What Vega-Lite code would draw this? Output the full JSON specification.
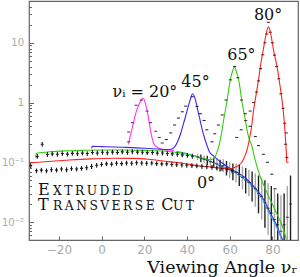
{
  "$schema": "https://vega.github.io/schema/vega-lite/v6.json",
  "width": 269,
  "height": 239,
  "autosize": {"type": "none"},
  "padding": {"left": 29, "top": 1, "right": 2, "bottom": 37},
  "config": {
    "view": {"stroke": "#666666", "strokeWidth": 1.2},
    "axis": {"grid": false, "domain": false, "labelColor": "#aaaaaa", "labelFont": "DejaVu Sans", "tickColor": "#666666"}
  },
  "datasets": {
    "curves": [
      {"s": "20", "x": 12.6, "y": 0.2}, {"s": "20", "x": 13.4, "y": 0.27}, {"s": "20", "x": 14.4, "y": 0.38}, {"s": "20", "x": 15.3, "y": 0.52}, {"s": "20", "x": 16.3, "y": 0.72}, {"s": "20", "x": 17.4, "y": 0.9}, {"s": "20", "x": 18.4, "y": 1.08}, {"s": "20", "x": 19.3, "y": 1.18}, {"s": "20", "x": 20.1, "y": 1.08}, {"s": "20", "x": 20.8, "y": 0.88}, {"s": "20", "x": 21.6, "y": 0.65}, {"s": "20", "x": 22.3, "y": 0.47}, {"s": "20", "x": 23, "y": 0.33}, {"s": "20", "x": 23.7, "y": 0.25}, {"s": "20", "x": 24.6, "y": 0.2}, {"s": "20", "x": 26, "y": 0.178}, {"s": "20", "x": 28.4, "y": 0.165}, {"s": "20", "x": 31, "y": 0.16}, {"s": "20", "x": 34, "y": 0.157},
      {"s": "45", "x": -4.6, "y": 0.17}, {"s": "45", "x": -4.5, "y": 0.185}, {"s": "45", "x": 0, "y": 0.183}, {"s": "45", "x": 10, "y": 0.178}, {"s": "45", "x": 20, "y": 0.172}, {"s": "45", "x": 26, "y": 0.167}, {"s": "45", "x": 30, "y": 0.163}, {"s": "45", "x": 32.4, "y": 0.165}, {"s": "45", "x": 34, "y": 0.178}, {"s": "45", "x": 35, "y": 0.2}, {"s": "45", "x": 36, "y": 0.24}, {"s": "45", "x": 37, "y": 0.3}, {"s": "45", "x": 38, "y": 0.4}, {"s": "45", "x": 39, "y": 0.53}, {"s": "45", "x": 40, "y": 0.72}, {"s": "45", "x": 41, "y": 0.97}, {"s": "45", "x": 41.8, "y": 1.2}, {"s": "45", "x": 42.6, "y": 1.4}, {"s": "45", "x": 43.4, "y": 1.28}, {"s": "45", "x": 44.2, "y": 1.02}, {"s": "45", "x": 45, "y": 0.76}, {"s": "45", "x": 46, "y": 0.53}, {"s": "45", "x": 47, "y": 0.37}, {"s": "45", "x": 48, "y": 0.27}, {"s": "45", "x": 49.4, "y": 0.19}, {"s": "45", "x": 50.5, "y": 0.15}, {"s": "45", "x": 52.5, "y": 0.127}, {"s": "45", "x": 56, "y": 0.1}, {"s": "45", "x": 61, "y": 0.076}, {"s": "45", "x": 64, "y": 0.066}, {"s": "45", "x": 67.3, "y": 0.055}, {"s": "45", "x": 70, "y": 0.044}, {"s": "45", "x": 72, "y": 0.037}, {"s": "45", "x": 74, "y": 0.03}, {"s": "45", "x": 75.8, "y": 0.024}, {"s": "45", "x": 78.9, "y": 0.0145}, {"s": "45", "x": 82, "y": 0.0088}, {"s": "45", "x": 84.3, "y": 0.0055}, {"s": "45", "x": 85, "y": 0.005},
      {"s": "0", "x": 35, "y": 0.152}, {"s": "0", "x": 38, "y": 0.145}, {"s": "0", "x": 41, "y": 0.136}, {"s": "0", "x": 45, "y": 0.124}, {"s": "0", "x": 50, "y": 0.106}, {"s": "0", "x": 53, "y": 0.096}, {"s": "0", "x": 56, "y": 0.087}, {"s": "0", "x": 61, "y": 0.072}, {"s": "0", "x": 64, "y": 0.062}, {"s": "0", "x": 67.3, "y": 0.051}, {"s": "0", "x": 70, "y": 0.042}, {"s": "0", "x": 72, "y": 0.035}, {"s": "0", "x": 74, "y": 0.028}, {"s": "0", "x": 75.8, "y": 0.0225}, {"s": "0", "x": 77.5, "y": 0.017}, {"s": "0", "x": 78.9, "y": 0.0135}, {"s": "0", "x": 80.5, "y": 0.0105}, {"s": "0", "x": 82, "y": 0.0082}, {"s": "0", "x": 83.2, "y": 0.0065}, {"s": "0", "x": 84.3, "y": 0.0052}, {"s": "0", "x": 85, "y": 0.0045},
      {"s": "65", "x": -30.8, "y": 0.118}, {"s": "65", "x": -30.7, "y": 0.14}, {"s": "65", "x": -28, "y": 0.145}, {"s": "65", "x": -24, "y": 0.15}, {"s": "65", "x": -18, "y": 0.155}, {"s": "65", "x": -10, "y": 0.158}, {"s": "65", "x": 0, "y": 0.16}, {"s": "65", "x": 10, "y": 0.16}, {"s": "65", "x": 20, "y": 0.158}, {"s": "65", "x": 30, "y": 0.153}, {"s": "65", "x": 36, "y": 0.145}, {"s": "65", "x": 41, "y": 0.134}, {"s": "65", "x": 45, "y": 0.124}, {"s": "65", "x": 48, "y": 0.116}, {"s": "65", "x": 50.5, "y": 0.11}, {"s": "65", "x": 52.5, "y": 0.115}, {"s": "65", "x": 54, "y": 0.145}, {"s": "65", "x": 55, "y": 0.19}, {"s": "65", "x": 55.6, "y": 0.24}, {"s": "65", "x": 56.4, "y": 0.34}, {"s": "65", "x": 57.2, "y": 0.52}, {"s": "65", "x": 58, "y": 0.75}, {"s": "65", "x": 58.7, "y": 1.05}, {"s": "65", "x": 59.5, "y": 1.6}, {"s": "65", "x": 60.3, "y": 2.4}, {"s": "65", "x": 61.3, "y": 3.3}, {"s": "65", "x": 62.3, "y": 3.95}, {"s": "65", "x": 63.2, "y": 3.2}, {"s": "65", "x": 64.2, "y": 2.4}, {"s": "65", "x": 65, "y": 1.6}, {"s": "65", "x": 65.7, "y": 1.05}, {"s": "65", "x": 66.5, "y": 0.73}, {"s": "65", "x": 67.3, "y": 0.52}, {"s": "65", "x": 68, "y": 0.37}, {"s": "65", "x": 68.8, "y": 0.27}, {"s": "65", "x": 69.6, "y": 0.22}, {"s": "65", "x": 70.4, "y": 0.187}, {"s": "65", "x": 71.5, "y": 0.125}, {"s": "65", "x": 72.7, "y": 0.087}, {"s": "65", "x": 74.2, "y": 0.059}, {"s": "65", "x": 75.8, "y": 0.043}, {"s": "65", "x": 78.1, "y": 0.0275}, {"s": "65", "x": 80.4, "y": 0.0187}, {"s": "65", "x": 82.8, "y": 0.012}, {"s": "65", "x": 85.1, "y": 0.0077}, {"s": "65", "x": 86.6, "y": 0.005},
      {"s": "80", "x": -34, "y": 0.097}, {"s": "80", "x": -25, "y": 0.103}, {"s": "80", "x": -15, "y": 0.109}, {"s": "80", "x": -5, "y": 0.114}, {"s": "80", "x": 5, "y": 0.117}, {"s": "80", "x": 15, "y": 0.116}, {"s": "80", "x": 22, "y": 0.112}, {"s": "80", "x": 30, "y": 0.104}, {"s": "80", "x": 38, "y": 0.096}, {"s": "80", "x": 45, "y": 0.088}, {"s": "80", "x": 52, "y": 0.083}, {"s": "80", "x": 57, "y": 0.079}, {"s": "80", "x": 60, "y": 0.078}, {"s": "80", "x": 62, "y": 0.081}, {"s": "80", "x": 64, "y": 0.088}, {"s": "80", "x": 65.7, "y": 0.1}, {"s": "80", "x": 67, "y": 0.125}, {"s": "80", "x": 68.2, "y": 0.165}, {"s": "80", "x": 69.3, "y": 0.25}, {"s": "80", "x": 70.2, "y": 0.38}, {"s": "80", "x": 71.1, "y": 0.7}, {"s": "80", "x": 72.3, "y": 1.3}, {"s": "80", "x": 73.5, "y": 2.4}, {"s": "80", "x": 74.3, "y": 3.8}, {"s": "80", "x": 75, "y": 5.5}, {"s": "80", "x": 75.7, "y": 7.5}, {"s": "80", "x": 76.4, "y": 10.5}, {"s": "80", "x": 77.2, "y": 14.5}, {"s": "80", "x": 78.1, "y": 18.5}, {"s": "80", "x": 78.9, "y": 16}, {"s": "80", "x": 79.6, "y": 12}, {"s": "80", "x": 80.4, "y": 8}, {"s": "80", "x": 81.2, "y": 5.8}, {"s": "80", "x": 82, "y": 4.3}, {"s": "80", "x": 83, "y": 2.6}, {"s": "80", "x": 84, "y": 1.5}, {"s": "80", "x": 84.8, "y": 0.9}, {"s": "80", "x": 85.4, "y": 0.55}, {"s": "80", "x": 85.9, "y": 0.33}, {"s": "80", "x": 86.3, "y": 0.2}, {"s": "80", "x": 86.6, "y": 0.13}, {"s": "80", "x": 86.7, "y": 0.1}, {"s": "80", "x": 87.6, "y": 0.1}
    ],
    "pts": [
      {"g": "b", "x": -30.1, "y": 0.125}, {"g": "b", "x": -27.8, "y": 0.2}, {"g": "b", "x": -25.4, "y": 0.135}, {"g": "b", "x": -23.1, "y": 0.138}, {"g": "b", "x": -20.7, "y": 0.136}, {"g": "b", "x": -18.4, "y": 0.14}, {"g": "b", "x": -16, "y": 0.137}, {"g": "b", "x": -13.7, "y": 0.141}, {"g": "b", "x": -11.3, "y": 0.139}, {"g": "b", "x": -9, "y": 0.142}, {"g": "b", "x": -6.7, "y": 0.14}, {"g": "b", "x": -4.3, "y": 0.146}, {"g": "b", "x": -2, "y": 0.143}, {"g": "b", "x": 0.4, "y": 0.147}, {"g": "b", "x": 2.7, "y": 0.144}, {"g": "b", "x": 5.1, "y": 0.148}, {"g": "b", "x": 7.4, "y": 0.146}, {"g": "b", "x": 9.7, "y": 0.149}, {"g": "b", "x": 12.1, "y": 0.147}, {"g": "b", "x": 14.4, "y": 0.15}, {"g": "b", "x": 16.8, "y": 0.148}, {"g": "b", "x": 19.1, "y": 0.147}, {"g": "b", "x": 21.4, "y": 0.145}, {"g": "b", "x": 23.8, "y": 0.146}, {"g": "b", "x": 26.1, "y": 0.142}, {"g": "b", "x": 28.5, "y": 0.143}, {"g": "b", "x": 30.8, "y": 0.14}, {"g": "b", "x": 33.1, "y": 0.138}, {"g": "b", "x": 35.5, "y": 0.136}, {"g": "b", "x": 37.8, "y": 0.133}, {"g": "b", "x": 40.2, "y": 0.13}, {"g": "b", "x": 42.5, "y": 0.126},
      {"g": "b", "x": -33.2, "y": 0.088}, {"g": "b", "x": -30.5, "y": 0.072}, {"g": "b", "x": -28.2, "y": 0.074}, {"g": "b", "x": -25.8, "y": 0.072}, {"g": "b", "x": -23.5, "y": 0.075}, {"g": "b", "x": -21.1, "y": 0.074}, {"g": "b", "x": -18.8, "y": 0.077}, {"g": "b", "x": -16.4, "y": 0.075}, {"g": "b", "x": -14.1, "y": 0.078}, {"g": "b", "x": -11.7, "y": 0.077}, {"g": "b", "x": -9.4, "y": 0.079}, {"g": "b", "x": -7, "y": 0.081}, {"g": "b", "x": -4.7, "y": 0.085}, {"g": "b", "x": -2.3, "y": 0.089}, {"g": "b", "x": 0, "y": 0.092}, {"g": "b", "x": 2.3, "y": 0.094}, {"g": "b", "x": 4.7, "y": 0.093}, {"g": "b", "x": 7, "y": 0.096}, {"g": "b", "x": 9.4, "y": 0.095}, {"g": "b", "x": 11.7, "y": 0.097}, {"g": "b", "x": 14.1, "y": 0.096}, {"g": "b", "x": 16.4, "y": 0.098}, {"g": "b", "x": 18.8, "y": 0.097}, {"g": "b", "x": 21.1, "y": 0.096}, {"g": "b", "x": 23.5, "y": 0.097}, {"g": "b", "x": 25.8, "y": 0.095}, {"g": "b", "x": 28.2, "y": 0.094}, {"g": "b", "x": 30.5, "y": 0.094}, {"g": "b", "x": 32.9, "y": 0.092}, {"g": "b", "x": 35.2, "y": 0.091}, {"g": "b", "x": 37.6, "y": 0.09}, {"g": "b", "x": 39.9, "y": 0.089}, {"g": "b", "x": 42.3, "y": 0.088}, {"g": "b", "x": 44.6, "y": 0.087}, {"g": "b", "x": 47, "y": 0.085}, {"g": "b", "x": 49.3, "y": 0.084}, {"g": "b", "x": 51.7, "y": 0.082}, {"g": "b", "x": 54, "y": 0.08}, {"g": "b", "x": 56.4, "y": 0.078}, {"g": "b", "x": 58.7, "y": 0.075}, {"g": "b", "x": 61.1, "y": 0.072},
      {"g": "d20", "x": 12.7, "y": 0.32}, {"g": "d20", "x": 12.7, "y": 0.22}, {"g": "d20", "x": 14.5, "y": 0.46}, {"g": "d20", "x": 16.2, "y": 0.9}, {"g": "d20", "x": 18.6, "y": 1.1}, {"g": "d20", "x": 21.3, "y": 0.72}, {"g": "d20", "x": 23, "y": 0.46}, {"g": "d20", "x": 25.4, "y": 0.33}, {"g": "d20", "x": 27, "y": 0.26}, {"g": "d20", "x": 28.4, "y": 0.21},
      {"g": "d45", "x": 30.3, "y": 0.24}, {"g": "d45", "x": 32.4, "y": 0.31}, {"g": "d45", "x": 34.2, "y": 0.42}, {"g": "d45", "x": 36, "y": 0.55}, {"g": "d45", "x": 37.8, "y": 0.7}, {"g": "d45", "x": 39.4, "y": 0.87}, {"g": "d45", "x": 42.5, "y": 1.25}, {"g": "d45", "x": 44.7, "y": 0.86}, {"g": "d45", "x": 46.3, "y": 0.65}, {"g": "d45", "x": 48, "y": 0.5}, {"g": "d45", "x": 49.3, "y": 0.35}, {"g": "d45", "x": 51.7, "y": 0.22}, {"g": "d45", "x": 53, "y": 0.3},
      {"g": "d65", "x": 54.7, "y": 0.42}, {"g": "d65", "x": 56.5, "y": 0.62}, {"g": "d65", "x": 58.3, "y": 1.1}, {"g": "d65", "x": 60.3, "y": 2.4}, {"g": "d65", "x": 62.3, "y": 4.0}, {"g": "d65", "x": 63.8, "y": 2.6}, {"g": "d65", "x": 65.6, "y": 1.1}, {"g": "d65", "x": 67.3, "y": 0.65}, {"g": "d65", "x": 69.5, "y": 0.4}, {"g": "d65", "x": 72, "y": 0.27}, {"g": "d65", "x": 73.5, "y": 0.19}, {"g": "d65", "x": 75.8, "y": 0.136}, {"g": "d65", "x": 77.7, "y": 0.1}, {"g": "d65", "x": 79.7, "y": 0.063}, {"g": "d65", "x": 81.2, "y": 0.036},
      {"g": "d80", "x": 63.3, "y": 0.26}, {"g": "d80", "x": 65.4, "y": 0.35}, {"g": "d80", "x": 67.5, "y": 0.5}, {"g": "d80", "x": 69.6, "y": 0.72}, {"g": "d80", "x": 71.2, "y": 1.0}, {"g": "d80", "x": 72.6, "y": 1.5}, {"g": "d80", "x": 73.5, "y": 2.3}, {"g": "d80", "x": 74.5, "y": 3.7}, {"g": "d80", "x": 75.5, "y": 6.3}, {"g": "d80", "x": 76.5, "y": 10}, {"g": "d80", "x": 77.4, "y": 14}, {"g": "d80", "x": 78.1, "y": 22}, {"g": "d80", "x": 79, "y": 15}, {"g": "d80", "x": 80, "y": 10}, {"g": "d80", "x": 81, "y": 6.2}, {"g": "d80", "x": 82, "y": 4}, {"g": "d80", "x": 83, "y": 2.5}, {"g": "d80", "x": 84, "y": 1.4}, {"g": "d80", "x": 85, "y": 0.8}, {"g": "d80", "x": 85.8, "y": 0.45}, {"g": "d80", "x": 86.5, "y": 0.31}, {"g": "d80", "x": 86.2, "y": 0.2}, {"g": "d80", "x": 86.8, "y": 0.12}
    ],
    "tail": [
      {"c": "g", "x": 45, "y": 0.122, "lo": 0.108, "hi": 0.138}, {"c": "k", "x": 46.5, "y": 0.117, "lo": 0.1, "hi": 0.135}, {"c": "g", "x": 48, "y": 0.112, "lo": 0.095, "hi": 0.13}, {"c": "k", "x": 49.5, "y": 0.108, "lo": 0.09, "hi": 0.128}, {"c": "g", "x": 51, "y": 0.102, "lo": 0.085, "hi": 0.122}, {"c": "k", "x": 52.5, "y": 0.1, "lo": 0.082, "hi": 0.12}, {"c": "g", "x": 54, "y": 0.094, "lo": 0.075, "hi": 0.115}, {"c": "k", "x": 55.5, "y": 0.088, "lo": 0.07, "hi": 0.11}, {"c": "g", "x": 57, "y": 0.088, "lo": 0.068, "hi": 0.112}, {"c": "k", "x": 58.5, "y": 0.08, "lo": 0.06, "hi": 0.105}, {"c": "g", "x": 60, "y": 0.076, "lo": 0.055, "hi": 0.1}, {"c": "k", "x": 61.5, "y": 0.07, "lo": 0.05, "hi": 0.095}, {"c": "g", "x": 63, "y": 0.068, "lo": 0.046, "hi": 0.095}, {"c": "k", "x": 64.5, "y": 0.062, "lo": 0.04, "hi": 0.09}, {"c": "g", "x": 66, "y": 0.056, "lo": 0.035, "hi": 0.085}, {"c": "k", "x": 67.5, "y": 0.05, "lo": 0.03, "hi": 0.08}, {"c": "g", "x": 69, "y": 0.046, "lo": 0.027, "hi": 0.075}, {"c": "k", "x": 70.5, "y": 0.04, "lo": 0.022, "hi": 0.07}, {"c": "g", "x": 72, "y": 0.036, "lo": 0.018, "hi": 0.065}, {"c": "k", "x": 73.5, "y": 0.03, "lo": 0.014, "hi": 0.06}, {"c": "g", "x": 75, "y": 0.027, "lo": 0.011, "hi": 0.055}, {"c": "k", "x": 76.5, "y": 0.021, "lo": 0.008, "hi": 0.05}, {"c": "g", "x": 78, "y": 0.017, "lo": 0.006, "hi": 0.045}, {"c": "k", "x": 79.5, "y": 0.014, "lo": 0.005, "hi": 0.04}, {"c": "g", "x": 81, "y": 0.011, "lo": 0.004, "hi": 0.035}, {"c": "k", "x": 82.5, "y": 0.009, "lo": 0.003, "hi": 0.03}, {"c": "g", "x": 84, "y": 0.007, "lo": 0.003, "hi": 0.028}, {"c": "k", "x": 85.5, "y": 0.009, "lo": 0.003, "hi": 0.03}, {"c": "g", "x": 87, "y": 0.012, "lo": 0.004, "hi": 0.04}, {"c": "k", "x": 88.5, "y": 0.02, "lo": 0.005, "hi": 0.06}
    ],
    "lab": [
      {"x": 20.3, "y": 1.24, "t": "νᵢ = 20°"},
      {"x": 44.0, "y": 1.82, "t": "45°"},
      {"x": 65.5, "y": 5.15, "t": "65°"},
      {"x": 78.0, "y": 24.1, "t": "80°"},
      {"x": 48.9, "y": 0.037, "t": "0°"}
    ],
    "scb": [
      {"x": -29.8, "y": 0.0283, "t": "E"},
      {"x": -29.8, "y": 0.0159, "t": "T"},
      {"x": 28.0, "y": 0.0159, "t": "C"}
    ],
    "scs": [
      {"x": -22.7, "y": 0.0283, "t": "X\u2009T\u2009R\u2009U\u2009D\u2009E\u2009D"},
      {"x": -22.7, "y": 0.0159, "t": "R\u2009A\u2009N\u2009S\u2009V\u2009E\u2009R\u2009S\u2009E"},
      {"x": 33.4, "y": 0.0159, "t": "U\u2009T"}
    ]
  },
  "resolve": {"axis": {"x": "independent", "y": "independent"}, "scale": {"color": "independent", "shape": "independent"}},
  "layer": [
    {
      "data": {"name": "tail"},
      "mark": {"type": "rule", "strokeWidth": 1.4, "clip": true},
      "encoding": {
        "x": {"field": "x", "type": "quantitative", "scale": {"domain": [-34, 92], "nice": false, "zero": false}, "axis": null},
        "y": {"field": "lo", "type": "quantitative", "scale": {"type": "log", "domain": [0.005, 50], "nice": false},
          "axis": {"orient": "left", "values": [0.006, 0.007, 0.008, 0.009, 0.02, 0.03, 0.04, 0.05, 0.06, 0.07, 0.08, 0.09, 0.2, 0.3, 0.4, 0.5, 0.6, 0.7, 0.8, 0.9, 2, 3, 4, 5, 6, 7, 8, 9, 20, 30, 40], "labels": false, "tickSize": -2.5, "title": null}},
        "y2": {"field": "hi"},
        "color": {"field": "c", "type": "nominal", "scale": {"domain": ["g", "k"], "range": ["#a8a8a8", "#222222"]}, "legend": null}
      }
    },
    {
      "data": {"name": "curves"},
      "mark": {"type": "line", "strokeWidth": 1.1, "interpolate": "monotone", "clip": true},
      "encoding": {
        "x": {"field": "x", "type": "quantitative", "scale": {"domain": [-34, 92], "nice": false, "zero": false},
          "axis": {"values": [-20, 0, 20, 40, 60, 80], "tickSize": -4, "labelPadding": 8, "labelFontSize": 12,
            "title": "Viewing Angle νᵣ", "titleFont": "DejaVu Serif", "titleFontSize": 17.5, "titleFontWeight": "normal", "titleColor": "#111111",
            "titleAnchor": "end", "titleAlign": "right", "titleBaseline": "alphabetic", "titleX": 268, "titleY": 32}},
        "y": {"field": "y", "type": "quantitative", "scale": {"type": "log", "domain": [0.005, 50], "nice": false},
          "axis": {"orient": "left", "values": [0.01, 0.1, 1, 10], "tickSize": -4.5, "labelPadding": 10, "labelFontSize": 10, "title": null,
            "labelExpr": "datum.value >= 5 ? '10' : datum.value >= 0.5 ? '1' : datum.value >= 0.05 ? '10⁻¹' : '10⁻²'"}},
        "color": {"field": "s", "type": "nominal", "scale": {"domain": ["20", "45", "65", "80", "0"], "range": ["#ff33ff", "#4422ee", "#33cc11", "#ff2222", "#33aadd"]}, "legend": null}
      }
    },
    {
      "data": {"name": "tail"},
      "mark": {"type": "point", "shape": "M-1,0H1", "size": 9, "strokeWidth": 1.2, "color": "#222222", "clip": true},
      "encoding": {
        "x": {"field": "x", "type": "quantitative", "scale": {"domain": [-34, 92], "nice": false, "zero": false}, "axis": null},
        "y": {"field": "y", "type": "quantitative", "scale": {"type": "log", "domain": [0.005, 50], "nice": false}, "axis": null}
      }
    },
    {
      "data": {"name": "pts"},
      "mark": {"type": "point", "size": 9, "strokeWidth": 1.1, "filled": false, "opacity": 1, "clip": true},
      "encoding": {
        "x": {"field": "x", "type": "quantitative", "scale": {"domain": [-34, 92], "nice": false, "zero": false}, "axis": null},
        "y": {"field": "y", "type": "quantitative", "scale": {"type": "log", "domain": [0.005, 50], "nice": false}, "axis": null},
        "shape": {"field": "g", "type": "nominal", "scale": {"domain": ["b", "d20", "d45", "d65", "d80"], "range": ["M-1,0H1M0,-1.6V1.6", "M-1,0H1", "M-1,0H1", "M-1,0H1", "M-1,0H1"]}, "legend": null},
        "color": {"field": "g", "type": "nominal", "scale": {"domain": ["b", "d20", "d45", "d65", "d80"], "range": ["#1a1a1a", "#702070", "#302060", "#203a20", "#602020"]}, "legend": null}
      }
    },
    {
      "data": {"name": "lab"},
      "mark": {"type": "text", "font": "DejaVu Serif", "fontSize": 16, "align": "center", "baseline": "alphabetic", "color": "#111111"},
      "encoding": {
        "x": {"field": "x", "type": "quantitative", "scale": {"domain": [-34, 92], "nice": false, "zero": false}, "axis": null},
        "y": {"field": "y", "type": "quantitative", "scale": {"type": "log", "domain": [0.005, 50], "nice": false}, "axis": null},
        "text": {"field": "t"}
      }
    },
    {
      "data": {"name": "scb"},
      "mark": {"type": "text", "font": "DejaVu Serif", "fontSize": 16, "align": "left", "baseline": "alphabetic", "color": "#111111"},
      "encoding": {
        "x": {"field": "x", "type": "quantitative", "scale": {"domain": [-34, 92], "nice": false, "zero": false}, "axis": null},
        "y": {"field": "y", "type": "quantitative", "scale": {"type": "log", "domain": [0.005, 50], "nice": false}, "axis": null},
        "text": {"field": "t"}
      }
    },
    {
      "data": {"name": "scs"},
      "mark": {"type": "text", "font": "DejaVu Serif", "fontSize": 12.3, "align": "left", "baseline": "alphabetic", "color": "#111111"},
      "encoding": {
        "x": {"field": "x", "type": "quantitative", "scale": {"domain": [-34, 92], "nice": false, "zero": false}, "axis": null},
        "y": {"field": "y", "type": "quantitative", "scale": {"type": "log", "domain": [0.005, 50], "nice": false}, "axis": null},
        "text": {"field": "t"}
      }
    }
  ]
}
